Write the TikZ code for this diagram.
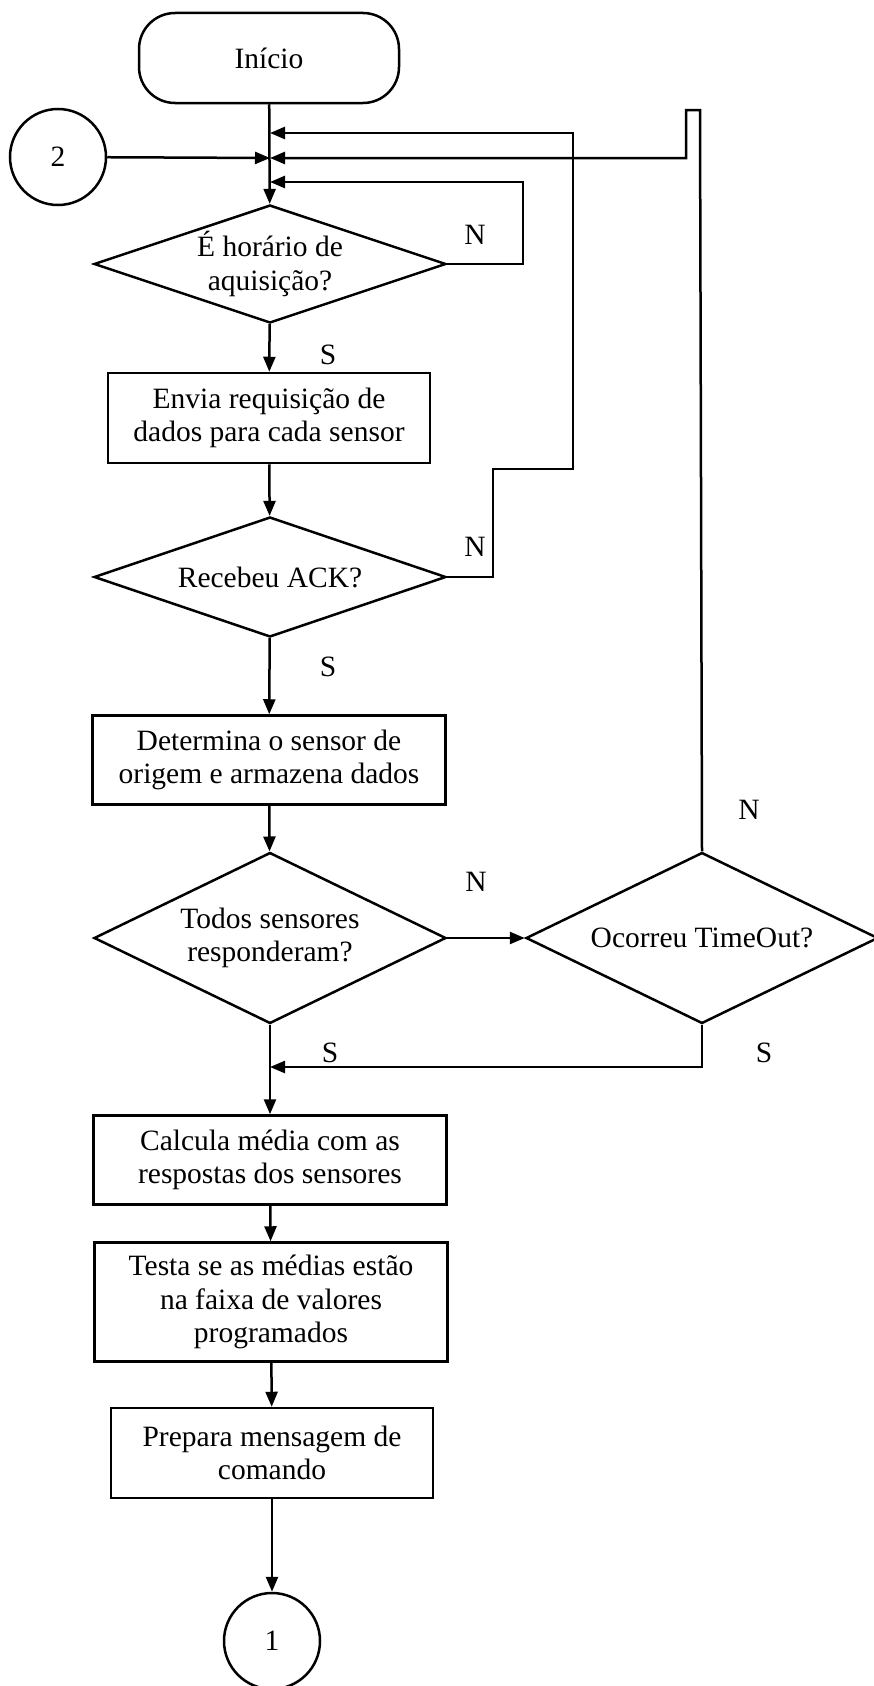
\documentclass[tikz,border=0pt]{standalone}
\usepackage{fontspec}
\setmainfont{Liberation Serif}
\usetikzlibrary{shapes.geometric,arrows.meta}

\tikzset{
  base/.style={draw, line width=2.5pt, align=center, inner sep=0pt},
  term/.style={base, rectangle, rounded corners=36pt, minimum width=260pt, minimum height=90pt},
  proc/.style={base, rectangle, minimum height=90pt},
  decision/.style={base, diamond, inner sep=-4pt, minimum width=352pt},
  conn/.style={base, circle, minimum size=96pt},
  flow/.style={line width=2.5pt, -{Triangle[length=15pt,width=12pt]}},
  lbl/.style={inner sep=0pt},
}

\begin{document}
\begin{tikzpicture}[x=1pt, y=-1pt, font=\fontsize{29.5}{33.5}\selectfont]
  \useasboundingbox (0,0) rectangle (873,1686);

  % main column
  \node[term] (start) at (269,58) {Início};
  \node[conn] (c2) at (58,157) {2};
  \coordinate (m1) at (270,133);
  \coordinate (m2) at (270,158);
  \coordinate (m3) at (270,182);
  \node[decision, aspect=3, minimum height=118pt] (hora) at (270,264) {É horário de\\aquisição?};
  \node[proc, minimum width=322pt] (envia) at (269,418) {Envia requisição de\\dados para cada sensor};
  \node[decision, aspect=3, minimum height=120pt] (ack) at (270,577) {Recebeu ACK?};
  \node[proc, minimum width=353pt, minimum height=89pt] (determ) at (269,760) {Determina o sensor de\\origem e armazena dados};
  \node[decision, aspect=2, minimum height=171pt] (todos) at (270,938) {Todos sensores\\responderam?};
  \node[decision, aspect=2, minimum height=171pt] (tout) at (702,938) {Ocorreu TimeOut?};
  \coordinate (junc) at (270,1067);
  \node[proc, minimum width=353pt, minimum height=89pt] (media) at (270,1160) {Calcula média com as\\respostas dos sensores};
  \node[proc, minimum width=353pt, minimum height=119pt] (testa) at (271,1302) {Testa se as médias estão\\na faixa de valores\\programados};
  \node[proc, minimum width=322pt] (prepara) at (272,1453) {Prepara mensagem de\\comando};
  \node[conn] (c1) at (272,1641) {1};

  % straight flow
  \draw[flow] (start) -- (hora);
  \draw[flow] (c2) -- (m2);
  \draw[flow] (hora) -- (envia);
  \draw[flow] (envia) -- (ack);
  \draw[flow] (ack) -- (determ);
  \draw[flow] (determ) -- (todos);
  \draw[flow] (todos) -- (media);
  \draw[flow] (todos) -- (tout);
  \draw[flow] (media) -- (testa);
  \draw[flow] (testa) -- (prepara);
  \draw[flow] (prepara) -- (c1);

  % loops back
  \draw[flow] (hora.east) -- (523,264) -- (523,182) -- (m3);
  \draw[flow] (ack.east) -- (493,577) -- (493,469) -- (573,469) -- (573,133) -- (m1);
  \draw[flow] (tout.north) -- (700,110) -- (686,110) -- (686,158) -- (m2);
  \draw[flow] (tout.south) -- (702,1067) -- (junc);

  % answers
  \node[lbl] (n1) at (475,235) {N};
  \node[lbl] (s1) at (328,355) {S};
  \node[lbl] (n2) at (475,547) {N};
  \node[lbl] (s2) at (328,667) {S};
  \node[lbl] (n3) at (476,882) {N};
  \node[lbl] (n4) at (749,810) {N};
  \node[lbl] (s3) at (330,1053) {S};
  \node[lbl] (s4) at (764,1053) {S};
\end{tikzpicture}
\end{document}
